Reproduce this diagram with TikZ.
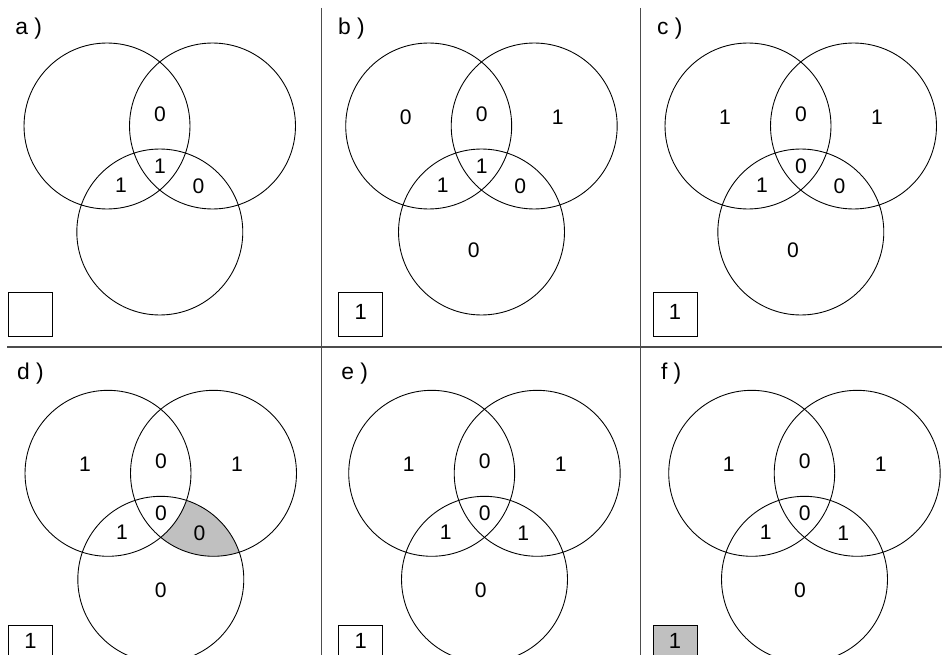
\documentclass[tikz,border=0pt]{standalone}
\usepackage{fontspec}
\setmainfont{Liberation Sans}
\usepackage{tikz}
\usetikzlibrary{calc, backgrounds}

\definecolor{shadegray}{RGB}{192,192,192}
\newcommand{\vennrad}{1.66cm}
% three circles and their region numbers, origin at the left circle
\newcommand{\vennthree}[8]{%
  \coordinate (A) at (0,0);
  \coordinate (B) at (105.5,0);
  \coordinate (C) at (52.8,106);
  \draw[ring] (A) circle (\vennrad);
  \draw[ring] (B) circle (\vennrad);
  \draw[ring] (C) circle (\vennrad);
  \node[num] (nA)   at (-23,-9) {#1};
  \node[num] (nAB)  at (53,-12) {#2};
  \node[num] (nB)   at (129,-9) {#3};
  \node[num] (nAC)  at (14,59) {#4};
  \node[num] (nABC) at (53,40) {#5};
  \node[num] (nBC)  at (91.5,60) {#6};
  \node[num] (nC)   at (#8) {#7};
}

\begin{document}
\begin{tikzpicture}[x=0.02cm, y=-0.02cm,
    ring/.style={line width=0.5pt},
    num/.style={font=\fontsize{12}{14}\selectfont},
    tag/.style={font=\fontsize{13}{15}\selectfont, anchor=west, inner sep=0pt},
    outbox/.style={draw, line width=0.6pt, minimum size=0.88cm, inner sep=0pt,
      anchor=north west, text depth=3pt, font=\fontsize{12.5}{15}\selectfont},
    lowbox/.style={outbox, text depth=7.5pt},
    sep/.style={draw=black!70, line width=0.7pt},
    hit/.style={fill=shadegray}
  ]
  \useasboundingbox (0,0) rectangle (942,655);
  \clip (0,0) rectangle (942,655);
  \begin{scope}[on background layer]
    \fill[white] (0,0) rectangle (942,655);
  \end{scope}
  % panel frames
  \draw[sep] (321.5,8) -- (321.5,655);
  \draw[sep] (640.5,8) -- (640.5,655);
  \draw[sep] (7,347) -- (942,347);

  % a)
  \node[tag] (a-tag) at (15,29) {a )};
  \node[outbox] (a-box) at (8,292) {};
  \begin{scope}[shift={(107,126)}, name prefix=a-]
    \vennthree{}{0}{}{1}{1}{0}{}{45,124}
  \end{scope}

  % b)
  \node[tag] (b-tag) at (337.7,29) {b )};
  \node[outbox] (b-box) at (338.3,292) {1};
  \begin{scope}[shift={(428.7,126)}, name prefix=b-]
    \vennthree{0}{0}{1}{1}{1}{0}{0}{45,124}
  \end{scope}

  % c)
  \node[tag] (c-tag) at (656.7,29) {c )};
  \node[outbox] (c-box) at (652.5,292) {1};
  \begin{scope}[shift={(748,126)}, name prefix=c-]
    \vennthree{1}{0}{1}{1}{0}{0}{0}{45,124}
  \end{scope}

  % d)
  \node[tag] (d-tag) at (16.7,374) {d )};
  \node[lowbox] (d-box) at (8,625) {1};
  \begin{scope}[shift={(108,473.3)}, name prefix=d-]
    \vennthree{1}{0}{1}{1}{0}{0}{0}{52.7,117}
    \begin{scope}[on background layer]
      \clip (B) circle (\vennrad);
      \clip (C) circle (\vennrad);
      \fill[hit, even odd rule] (-120,-120) rectangle (300,300) (A) circle (\vennrad);
    \end{scope}
  \end{scope}

  % e)
  \node[tag] (e-tag) at (341,374) {e )};
  \node[lowbox] (e-box) at (338.3,625) {1};
  \begin{scope}[shift={(431.7,473.3)}, name prefix=e-]
    \vennthree{1}{0}{1}{1}{0}{1}{0}{49,117}
  \end{scope}

  % f)
  \node[tag] (f-tag) at (660.7,374) {f )};
  \node[lowbox, hit] (f-box) at (652.5,625) {1};
  \begin{scope}[shift={(751.7,473.3)}, name prefix=f-]
    \vennthree{1}{0}{1}{1}{0}{1}{0}{48.3,117}
  \end{scope}
\end{tikzpicture}
\end{document}
